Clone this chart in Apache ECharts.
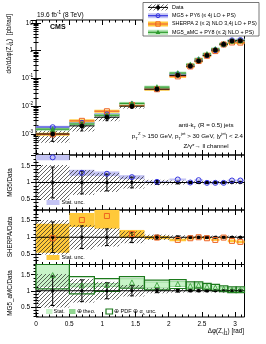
<!DOCTYPE html>
<html><head><meta charset="utf-8">
<script src="https://cdn.jsdelivr.net/npm/echarts@6/dist/echarts.min.js"></script>
<style>html,body{margin:0;padding:0;background:#fff}#c{width:266px;height:344px}</style>
</head><body><div id="c"></div>
<script>
// ---------------- data ----------------
const binEdges = [0, 0.503, 0.880, 1.257, 1.634, 2.011, 2.262, 2.388, 2.513, 2.639, 2.765, 2.890, 3.016, 3.1416];
const dataXsec = [1.0e-3, 1.95e-3, 4.0e-3, 1.0e-2, 4.1e-2, 0.128, 0.276, 0.42, 0.67, 1.04, 1.67, 2.2, 2.25];
const dataStat = [0.46, 0.34, 0.25, 0.16, 0.06, 0.04, 0.03, 0.03, 0.03, 0.02, 0.02, 0.02, 0.02];
const dataTot  = [0.52, 0.37, 0.28, 0.18, 0.08, 0.06, 0.05, 0.05, 0.05, 0.05, 0.05, 0.05, 0.05];
const mgRatio  = [1.75, 1.29, 1.26, 1.16, 1.02, 1.09, 1.00, 1.07, 0.99, 0.99, 0.99, 1.06, 1.06];
const mgStat   = [0.09, 0.09, 0.07, 0.06, 0.03, 0.03, 0.03, 0.03, 0.03, 0.03, 0.03, 0.03, 0.03];
const shRatio  = [0.97, 1.52, 1.64, 1.10, 0.99, 0.92, 0.97, 1.00, 0.97, 0.92, 0.99, 0.89, 0.86];
const shStat   = [0.44, 0.21, 0.38, 0.12, 0.05, 0.04, 0.04, 0.03, 0.03, 0.03, 0.03, 0.04, 0.04];
const amcRatio = [1.49, 1.17, 1.18, 1.26, 1.18, 1.21, 1.15, 1.18, 1.13, 1.10, 1.06, 1.03, 1.03];
const amcStat  = [0.34, 0.04, 0.04, 0.10, 0.08, 0.06, 0.05, 0.05, 0.05, 0.04, 0.04, 0.03, 0.03];
const amcTheo  = [0.36, 0.06, 0.06, 0.13, 0.11, 0.09, 0.08, 0.07, 0.07, 0.06, 0.06, 0.05, 0.05];
const amcPdf   = [0.43, 0.27, 0.20, 0.18, 0.15, 0.14, 0.13, 0.10, 0.10, 0.10, 0.09, 0.09, 0.09];
const xMajorTicks = [0, 0.5, 1, 1.5, 2, 2.5, 3];
const xMinorTicks = [0.1,0.2,0.3,0.4,0.6,0.7,0.8,0.9,1.1,1.2,1.3,1.4,1.6,1.7,1.8,1.9,2.1,2.2,2.3,2.4,2.6,2.7,2.8,2.9,3.1];
const ratioMajorTicks = [0.5, 1, 1.5];
const ratioMinorTicks = [0.2,0.3,0.4,0.6,0.7,0.8,0.9,1.1,1.2,1.3,1.4,1.6,1.7,1.8];
const logMinorTicks = [2e-4,3e-4,4e-4,5e-4,6e-4,7e-4,8e-4,9e-4,2e-3,3e-3,4e-3,5e-3,6e-3,7e-3,8e-3,9e-3,
  0.02,0.03,0.04,0.05,0.06,0.07,0.08,0.09,0.2,0.3,0.4,0.5,0.6,0.7,0.8,0.9,2,3,4,5,6,7,8,9];
const xMin = 0, xMax = 3.1416;
const yTopMin = 1.75e-4, yTopMax = 12.56;
const rMin = 0.18, rMax = 1.82;

// ---------------- style ----------------
const FONT = '"Liberation Sans", Arial, Helvetica, sans-serif';
const C = {
  mgLine:'#3434e0', mgBand:'#c4c4f4',
  shLine:'#f26a3a', shBand:'#ffc93a', shMark:'#ee6420',
  amLine:'#2e9a2e', amBand:'#b4e6b4', amStat:'#c8f3c8', amTheo:'#90d690', amPdf:'#1c7a1c'
};
function makeHatch(){
  const c = document.createElement('canvas'); c.width = 4; c.height = 4;
  const g = c.getContext('2d'); g.strokeStyle = '#222'; g.lineWidth = 0.7;
  g.beginPath(); g.moveTo(0,4); g.lineTo(4,0); g.moveTo(-1,1); g.lineTo(1,-1); g.moveTo(3,5); g.lineTo(5,3); g.stroke();
  return c;
}
const hatchFill = {image: makeHatch(), repeat: 'repeat'};

const GL = 36, GR = 21.5;
const panels = [{top:20,h:135},{top:155,h:55},{top:210,h:54.5},{top:264.5,h:52.5}];

const nb = dataXsec.length;
const lo = binEdges.slice(0, nb), hi = binEdges.slice(1);
const ctr = lo.map((v,i)=>(v+hi[i])/2);

// ---------------- renderers ----------------
function rectItem(fill, stroke, lw){
  return (params, api) => {
    const cs = params.coordSys;
    const p = api.coord([api.value(0), api.value(3)]);
    const q = api.coord([api.value(1), api.value(2)]);
    const t = Math.max(Math.min(p[1], q[1]), cs.y);
    const b = Math.min(Math.max(p[1], q[1]), cs.y + cs.height);
    if (!(b > t)) return null;
    const style = {fill: fill || 'none'};
    if (stroke) { style.stroke = stroke; style.lineWidth = lw || 1; }
    return {type:'rect', shape:{x:p[0], y:t, width:q[0]-p[0], height:b-t}, style};
  };
}
function hlineItem(color, lw, under, underW){
  return (params, api) => {
    const cs = params.coordSys;
    const p = api.coord([api.value(0), api.value(2)]);
    const q = api.coord([api.value(1), api.value(2)]);
    if (p[1] < cs.y || p[1] > cs.y + cs.height) return null;
    const ch = [];
    if (under) ch.push({type:'line', shape:{x1:p[0], y1:p[1], x2:q[0], y2:q[1]}, style:{stroke:under, lineWidth:underW}});
    ch.push({type:'line', shape:{x1:p[0], y1:p[1], x2:q[0], y2:q[1]}, style:{stroke:color, lineWidth:lw}});
    return {type:'group', children:ch};
  };
}
function ebarItem(color, cap){
  return (params, api) => {
    const cs = params.coordSys;
    const a = api.coord([api.value(0), api.value(1)]);
    const b = api.coord([api.value(0), api.value(2)]);
    const y1 = Math.min(a[1], cs.y + cs.height), y2 = Math.max(b[1], cs.y);
    const ch = [{type:'line', shape:{x1:a[0], y1:y1, x2:a[0], y2:y2}, style:{stroke:color, lineWidth:1}}];
    if (cap) {
      ch.push({type:'line', shape:{x1:a[0]-cap, y1:a[1], x2:a[0]+cap, y2:a[1]}, style:{stroke:color, lineWidth:1}});
      ch.push({type:'line', shape:{x1:a[0]-cap, y1:b[1], x2:a[0]+cap, y2:b[1]}, style:{stroke:color, lineWidth:1}});
    }
    return {type:'group', children:ch};
  };
}
function custom(g, data, renderItem){
  return {type:'custom', xAxisIndex:4*g, yAxisIndex:4*g, data, renderItem, silent:true, animation:false};
}
function scatter(g, data, symbol, size, fill, stroke, lw){
  return {type:'scatter', xAxisIndex:4*g, yAxisIndex:4*g, data, symbol, symbolSize:size, clip:true, silent:true, animation:false,
    itemStyle:{color:fill, borderColor:stroke, borderWidth:lw||1, opacity:1}};
}

// ---------------- axes ----------------
const grid = [], xAxis = [], yAxis = [];
panels.forEach((p, g) => {
  grid.push({left:GL, right:GR, top:p.top, height:p.h, show:true, borderColor:'#000', borderWidth:1,
    backgroundColor:'transparent', containLabel:false, outerBoundsMode:'none'});
  const last = g === panels.length - 1;
  ['bottom','top'].forEach(pos => {
    [[xMajorTicks, 5], [xMinorTicks, 2.5]].forEach(([tk, len], k) => {
      xAxis.push({type:'value', gridIndex:g, min:xMin, max:xMax, position:pos,
        axisLine:{show:false}, splitLine:{show:false},
        axisTick:{show:true, inside:true, length:len, customValues:tk, lineStyle:{color:'#000', width:1}},
        axisLabel:{show: last && pos==='bottom' && k===0, customValues:tk, margin:4, fontSize:6.5, fontFamily:FONT, color:'#000',
          formatter: v => String(v)}
      });
    });
  });
  ['left','right'].forEach(pos => {
    if (g === 0) {
      yAxis.push({type:'log', gridIndex:0, min:yTopMin, max:yTopMax, position:pos,
        axisLine:{show:false}, splitLine:{show:false},
        axisTick:{show:true, inside:true, length:5, lineStyle:{color:'#000'}},
        axisLabel:{show: pos==='left', showMinLabel:false, showMaxLabel:false, margin:3, fontSize:6.5, fontFamily:FONT, color:'#000',
          formatter: v => { const e = Math.round(Math.log10(v)); return e===0 ? '1' : e===1 ? '10' : '10{s|' + e + '}'; },
          rich:{s:{fontSize:4.6, verticalAlign:'top', lineHeight:5, fontFamily:FONT, color:'#000'}}, lineHeight:10}
      });
      yAxis.push({type:'log', gridIndex:0, min:yTopMin, max:yTopMax, position:pos,
        axisLine:{show:false}, splitLine:{show:false},
        axisTick:{show:true, inside:true, length:2.5, customValues:logMinorTicks, lineStyle:{color:'#000'}},
        axisLabel:{show:false}
      });
    } else {
      [[ratioMajorTicks, 5], [ratioMinorTicks, 2.5]].forEach(([tk, len], k) => {
        yAxis.push({type:'value', gridIndex:g, min:rMin, max:rMax, position:pos,
          axisLine:{show:false}, splitLine:{show:false},
          axisTick:{show:true, inside:true, length:len, customValues:tk, lineStyle:{color:'#000'}},
          axisLabel:{show: pos==='left' && k===0, customValues:tk, margin:6, fontSize:6.5, fontFamily:FONT, color:'#000',
            formatter: v => String(v)}
        });
      });
    }
  });
});

// ---------------- series ----------------
const S = [];
// top panel
const topLine = (r) => lo.map((v,i)=>[v, hi[i], dataXsec[i]*r[i]]);
const topPts = (r) => ctr.map((v,i)=>[v, dataXsec[i]*r[i]]);
S.push(custom(0, lo.map((v,i)=>[v, hi[i], dataXsec[i]*(1-dataTot[i]), dataXsec[i]*(1+dataTot[i])]), rectItem(hatchFill)));
S.push(custom(0, topLine(mgRatio), hlineItem(C.mgLine, 1.2, C.mgBand, 3)));
S.push(custom(0, topLine(shRatio), hlineItem(C.shLine, 1.2, C.shBand, 3)));
S.push(custom(0, topLine(amcRatio), hlineItem(C.amLine, 1.2, C.amBand, 3)));
S.push(custom(0, lo.map((v,i)=>[v, hi[i], dataXsec[i]]), hlineItem('#000', 1)));
S.push(scatter(0, topPts(mgRatio), 'circle', 5, 'rgba(0,0,0,0)', C.mgLine, 1));
S.push(scatter(0, topPts(shRatio), 'rect', 5, 'rgba(0,0,0,0)', C.shMark, 1));
S.push(scatter(0, topPts(amcRatio), 'triangle', 5, C.amLine, C.amLine, 0.5));
S.push(custom(0, ctr.map((v,i)=>[v, dataXsec[i]*(1-dataStat[i]), dataXsec[i]*(1+dataStat[i])]), ebarItem('#000', 1.5)));
S.push(scatter(0, ctr.map((v,i)=>[v, dataXsec[i]]), 'circle', 4.5, '#000', '#000', 0.5));

// ratio panels
function ratioCommon(g, pre, post){
  pre.forEach(s => S.push(s));
  S.push(custom(g, lo.map((v,i)=>[v, hi[i], 1-dataTot[i], 1+dataTot[i]]), rectItem(hatchFill)));
  post.forEach(s => S.push(s));
  S.push(custom(g, lo.map((v,i)=>[v, hi[i], 1]), hlineItem('#000', 1)));
  S.push(custom(g, ctr.map((v,i)=>[v, 1-dataStat[i], 1+dataStat[i]]), ebarItem('#000', 2)));
  S.push(scatter(g, ctr.map(v=>[v, 1]), 'circle', 3, '#000', '#000', 0.3));
}
const rBand = (r, s) => lo.map((v,i)=>[v, hi[i], r[i]-s[i], r[i]+s[i]]);
const rPts = (r) => ctr.map((v,i)=>[v, r[i]]);
ratioCommon(1, [custom(1, rBand(mgRatio, mgStat), rectItem(C.mgBand))], []);
S.push(scatter(1, rPts(mgRatio), 'circle', 5, 'rgba(0,0,0,0)', C.mgLine, 1));
ratioCommon(2, [custom(2, rBand(shRatio, shStat), rectItem(C.shBand))], []);
S.push(scatter(2, rPts(shRatio), 'rect', 5, 'rgba(0,0,0,0)', C.shMark, 1));
ratioCommon(3, [custom(3, rBand(amcRatio, amcTheo), rectItem(C.amTheo)), custom(3, rBand(amcRatio, amcStat), rectItem(C.amStat))],
  [custom(3, rBand(amcRatio, amcPdf), rectItem(null, C.amPdf, 1.2))]);
S.push(scatter(3, rPts(amcRatio), 'triangle', 5, 'rgba(0,0,0,0)', C.amLine, 0.8));

// ---------------- texts / legends ----------------
const txt = (x, y, text, size, opt) => Object.assign({type:'text', x, y, z:100, silent:true,
  style:Object.assign({text, fontSize:size, fontFamily:FONT, fill:'#000', align:'left', verticalAlign:'middle', lineHeight:size*1.5,
    rich:{s:{fontSize:size*0.7, verticalAlign:'top', lineHeight:size*0.75, fontFamily:FONT},
          b:{fontSize:size*0.7, verticalAlign:'bottom', lineHeight:size*0.75, fontFamily:FONT}}}, opt && opt.style)}, opt && opt.el);
const rect = (x, y, w, h, fill, stroke, lw) => ({type:'rect', z:100, silent:true, shape:{x, y, width:w, height:h}, style:{fill, stroke: stroke||null, lineWidth: lw||0}});
const line = (x1, y1, x2, y2, color, lw) => ({type:'line', z:101, silent:true, shape:{x1, y1, x2, y2}, style:{stroke:color, lineWidth:lw}});

const G = [];
G.push(txt(37, 15, '19.6 fb{s|-1} (8 TeV)', 6.5));
G.push(txt(50, 27, 'CMS', 7, {style:{fontWeight:'bold'}}));
G.push(txt(9, 14, 'dσ/dΔφ(Z,j{b|1})  [pb/rad]', 6.3, {el:{rotation:Math.PI/2}, style:{align:'right'}}));
G.push(txt(206, 125.5, 'anti-k{b|T} (R = 0.5) jets', 6.2, {style:{align:'center'}}));
G.push(txt(243, 136.5, 'p{b|T}{s|Z} > 150 GeV, p{b|T}{s|jet} > 30 GeV, |y{s|jet}| < 2.4', 6.2, {style:{align:'right'}}));
G.push(txt(206, 146.5, 'Z/γ*→ ll channel', 6.2, {style:{align:'center'}}));
G.push(txt(10, 182.5, 'MG5/Data', 6.3, {el:{rotation:Math.PI/2}, style:{align:'center'}}));
G.push(txt(10, 237, 'SHERPA/Data', 6.3, {el:{rotation:Math.PI/2}, style:{align:'center'}}));
G.push(txt(10, 293, 'MG5_aMC/Data', 6.3, {el:{rotation:Math.PI/2}, style:{align:'center'}}));
G.push(txt(244, 331, 'Δφ(Z,j{b|1}) [rad]', 6.3, {style:{align:'right'}}));
// ratio legends
G.push(rect(46.5, 200, 13, 5, C.mgBand));
G.push(txt(61.5, 202.5, 'Stat. unc.', 5.5));
G.push(rect(46.5, 255, 13, 5, C.shBand));
G.push(txt(61.5, 257.5, 'Stat. unc.', 5.5));
G.push(rect(46, 309, 6.5, 5, C.amStat));
G.push(txt(53.5, 311.5, 'Stat.', 5.5));
G.push(rect(69, 309, 6.5, 5, C.amTheo));
G.push(txt(76.5, 311.5, '⊕ theo.', 5.5));
G.push(rect(106, 309, 6.5, 5, 'none', C.amPdf, 1.2));
G.push(txt(114, 311.5, '⊕ PDF ⊕ α{b|s} unc.', 5.5));
// main legend
const LX0 = 148, LX1 = 168, LXC = 158, LT = 172;
const rows = [7.4, 15.7, 24.0, 32.3];
G.push(rect(143, 2.5, 116, 33.5, '#fff', '#555', 0.8));
G.push(Object.assign(rect(LX0, rows[0]-3, LX1-LX0, 6, hatchFill), {z:101}));
G.push(line(LX0, rows[0], LX1, rows[0], '#000', 1));
G.push(line(LXC, rows[0]-3, LXC, rows[0]+3, '#000', 1));
G.push({type:'circle', z:102, silent:true, shape:{cx:LXC, cy:rows[0], r:2}, style:{fill:'#000'}});
G.push(txt(LT, rows[0], 'Data', 5.4));
[[C.mgBand, C.mgLine, 'circle', 'MG5 + PY6 (≤ 4j LO + PS)'],
 [C.shBand, C.shLine, 'rect', 'SHERPA 2 (≤ 2j NLO 3,4j LO + PS)'],
 [C.amBand, C.amLine, 'tri', 'MG5_aMC + PY8 (≤ 2j NLO + PS)']].forEach(([band, col, mk, label], k) => {
  const y = rows[k+1];
  G.push(Object.assign(rect(LX0, y-2.5, LX1-LX0, 5, band), {z:101}));
  G.push(line(LX0, y, LX1, y, col, 1.2));
  if (mk === 'circle') G.push({type:'circle', z:102, silent:true, shape:{cx:LXC, cy:y, r:2}, style:{fill:'none', stroke:col, lineWidth:1}});
  if (mk === 'rect') G.push({type:'rect', z:102, silent:true, shape:{x:LXC-2.2, y:y-2.2, width:4.4, height:4.4}, style:{fill:'none', stroke:C.shMark, lineWidth:1}});
  if (mk === 'tri') G.push({type:'polygon', z:102, silent:true, shape:{points:[[LXC, y-2.6],[LXC-2.4, y+1.8],[LXC+2.4, y+1.8]]}, style:{fill:col}});
  G.push(txt(LT, y, label, 5.4));
});

const chart = echarts.init(document.getElementById('c'), null, {renderer:'canvas'});
chart.setOption({animation:false, backgroundColor:'#fff', grid, xAxis, yAxis, series:S, graphic:G});
</script></body></html>
